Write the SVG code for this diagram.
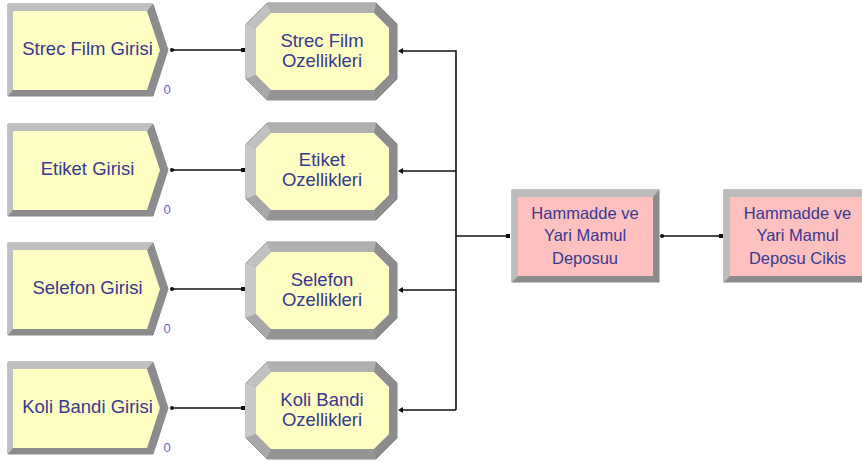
<svg xmlns="http://www.w3.org/2000/svg" xmlns:xlink="http://www.w3.org/1999/xlink" width="862" height="462" viewBox="0 0 862 462">
<style>
  .lbl { font-family: "Liberation Sans", Arial, sans-serif; font-size: 18.5px; fill: #38388f; text-anchor: middle; }
  .lbl2 { font-family: "Liberation Sans", Arial, sans-serif; font-size: 16.5px; fill: #38388f; text-anchor: middle; }
  .cnt { font-family: "Liberation Sans", Arial, sans-serif; font-size: 13px; fill: #6464dc; text-anchor: middle; }
  .conn { fill: none; stroke: #111; stroke-width: 1.6; }
  .mk { fill: #111; }
</style>
<defs>
  <g id="create">
    <polygon points="0,0 145,0 160,46 145,92 0,92" fill="#8c8c8c" stroke="#8a8a8a" stroke-width="1"/>
    <polygon points="0,0 145,0 139,7 5,7 5,86 0,92" fill="#c0c0c0"/>
    <polygon points="5,7 139,7 152,46 139,86 5,86" fill="#ffffc4"/>
  </g>
  <g id="proc">
    <polygon points="21,0 130,0 151,21 151,76 130,97 21,97 0,76 0,21" fill="#8c8c8c" stroke="#888" stroke-width="1"/>
    <polygon points="21,0 130,0 128,10 25,10" fill="#b0b0b0"/>
    <polygon points="0,21 21,0 25,10 10,25" fill="#c0c0c0"/>
    <polygon points="0,21 10,25 10,72 0,76" fill="#c8c8c8"/>
    <polygon points="0,76 10,72 25,87 21,97" fill="#a8a8a8"/>
    <polygon points="21,97 25,87 128,87 130,97" fill="#949494"/>
    <polygon points="25,10 128,10 143,25 143,72 128,87 25,87 10,72 10,25" fill="#ffffc4"/>
  </g>
  <g id="box">
    <rect x="0" y="0" width="147" height="92" fill="#8c8c8c" stroke="#888" stroke-width="1"/>
    <polygon points="0,0 147,0 141,7 6,7 6,86 0,92" fill="#bcbcbc"/>
    <rect x="6" y="7" width="135" height="79" fill="#ffc0c0"/>
  </g>
</defs>

<g id="connectors">
  <path class="conn" d="M172,50 H243"/>
  <path class="conn" d="M172,170 H243"/>
  <path class="conn" d="M172,289 H243"/>
  <path class="conn" d="M172,408 H243"/>
  <path class="conn" d="M400,51 H456 V410 M400,171 H456 M400,290 H456 M400,410 H456"/>
  <path class="conn" d="M456,236 H508"/>
  <path class="conn" d="M662,236 H721"/>
  <circle class="mk" cx="172" cy="50" r="2"/>
  <circle class="mk" cx="172" cy="170" r="2"/>
  <circle class="mk" cx="172" cy="289" r="2"/>
  <circle class="mk" cx="172" cy="408" r="2"/>
  <polygon class="mk" points="398,51 403,48 403,54"/>
  <polygon class="mk" points="398,171 403,168 403,174"/>
  <polygon class="mk" points="398,290 403,287 403,293"/>
  <polygon class="mk" points="398,410 403,407 403,413"/>
  <circle class="mk" cx="662" cy="236" r="2"/>
  <rect class="mk" x="241" y="48" width="4" height="4"/>
  <rect class="mk" x="241" y="168" width="4" height="4"/>
  <rect class="mk" x="241" y="287" width="4" height="4"/>
  <rect class="mk" x="241" y="406" width="4" height="4"/>
  <rect class="mk" x="506" y="234" width="4" height="4"/>
  <rect class="mk" x="719" y="234" width="4" height="4"/>
</g>

<g id="create1">
  <use xlink:href="#create" href="#create" x="8" y="4"/>
  <text class="lbl" x="87.5" y="55">Strec Film Girisi</text>
  <text class="cnt" x="167" y="94">0</text>
</g>
<g id="create2">
  <use xlink:href="#create" href="#create" x="8" y="124"/>
  <text class="lbl" x="87.5" y="175">Etiket Girisi</text>
  <text class="cnt" x="167" y="214">0</text>
</g>
<g id="create3">
  <use xlink:href="#create" href="#create" x="8" y="243"/>
  <text class="lbl" x="87.5" y="294">Selefon Girisi</text>
  <text class="cnt" x="167" y="333">0</text>
</g>
<g id="create4">
  <use xlink:href="#create" href="#create" x="8" y="362"/>
  <text class="lbl" x="87.5" y="413">Koli Bandi Girisi</text>
  <text class="cnt" x="167" y="452">0</text>
</g>

<g id="proc1">
  <use xlink:href="#proc" href="#proc" x="246" y="3"/>
  <text class="lbl" x="322" y="47">Strec Film</text>
  <text class="lbl" x="322" y="67">Ozellikleri</text>
</g>
<g id="proc2">
  <use xlink:href="#proc" href="#proc" x="246" y="123"/>
  <text class="lbl" x="322" y="166">Etiket</text>
  <text class="lbl" x="322" y="186">Ozellikleri</text>
</g>
<g id="proc3">
  <use xlink:href="#proc" href="#proc" x="246" y="242"/>
  <text class="lbl" x="322" y="286">Selefon</text>
  <text class="lbl" x="322" y="306">Ozellikleri</text>
</g>
<g id="proc4">
  <use xlink:href="#proc" href="#proc" x="246" y="362"/>
  <text class="lbl" x="322" y="406">Koli Bandi</text>
  <text class="lbl" x="322" y="426">Ozellikleri</text>
</g>

<g id="depo">
  <use xlink:href="#box" href="#box" x="512" y="190"/>
  <text class="lbl2" x="585" y="219">Hammadde ve</text>
  <text class="lbl2" x="585" y="241">Yari Mamul</text>
  <text class="lbl2" x="585" y="264">Deposuu</text>
</g>
<g id="depoCikis">
  <use xlink:href="#box" href="#box" x="724" y="190"/>
  <text class="lbl2" x="797.5" y="219">Hammadde ve</text>
  <text class="lbl2" x="797.5" y="241">Yari Mamul</text>
  <text class="lbl2" x="797.5" y="264">Deposu Cikis</text>
</g>
</svg>
